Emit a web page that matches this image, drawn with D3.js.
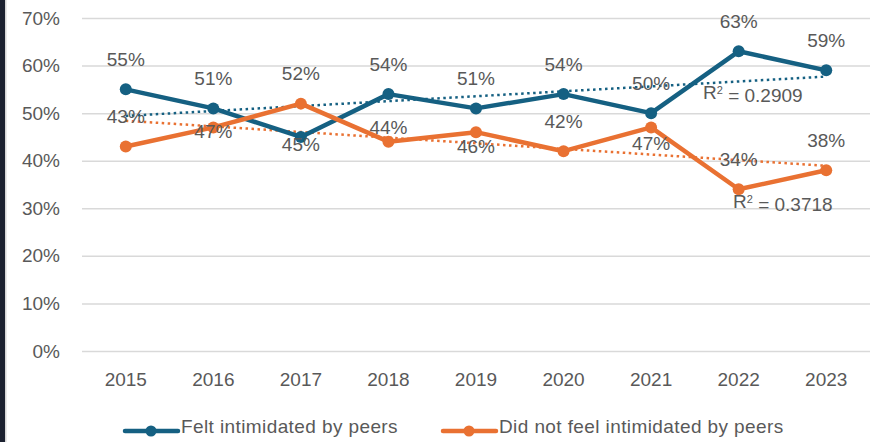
<!DOCTYPE html>
<html>
<head>
<meta charset="utf-8">
<script src="https://cdn.jsdelivr.net/npm/d3@7"></script>
<style>
  body { margin: 0; background: #fff; }
  svg { display: block; font-family: "Liberation Sans", Arial, sans-serif; }
</style>
</head>
<body>
<div id="chart"></div>
<script>
const years = ["2015", "2016", "2017", "2018", "2019", "2020", "2021", "2022", "2023"];
const felt = [55, 51, 45, 54, 51, 54, 50, 63, 59];
const notFelt = [43, 47, 52, 44, 46, 42, 47, 34, 38];
const seriesNames = ["Felt intimidated by peers", "Did not feel intimidated by peers"];
const rSquared = ["0.2909", "0.3718"];
const yTicks = [0, 10, 20, 30, 40, 50, 60, 70];

const width = 870,
  height = 442;

const colors = ["#156082", "#e97132"];
const textColor = "#595959";

// labels that sit below (or nudged) instead of the default "above"
const labelNudge = {
  "0-2017": 7,
  "1-2016": 4, "1-2018": -14, "1-2019": 14, "1-2021": 16
};

const svg = d3.select("#chart")
  .append("svg")
  .attr("width", width)
  .attr("height", height)
  .attr("viewBox", [0, 0, width, height]);

// dark strip on the left edge
svg.append("rect").attr("x", 0).attr("y", 0).attr("width", 5).attr("height", height).attr("fill", "#1b2130");
svg.append("rect").attr("x", 5).attr("y", 0).attr("width", 1.5).attr("height", height).attr("fill", "#d6d6d6");

const x = d3.scaleBand()
  .domain(years)
  .range([82, 870]);

const y = d3.scaleLinear()
  .domain([0, 70])
  .range([351, 18]);

const cx = d => x(d) + x.bandwidth() / 2;

// gridlines + y labels
svg.append("g")
  .attr("transform", "translate(82,0)")
  .call(d3.axisLeft(y).tickValues(yTicks).tickFormat(d => d + "%").tickSize(-(870 - 82)).tickPadding(22))
  .call(g => g.select(".domain").remove())
  .call(g => g.selectAll(".tick line").attr("stroke", "#d9d9d9").attr("stroke-width", 1.5))
  .call(g => g.selectAll(".tick text").attr("fill", textColor).style("font-size", "19px").style("font-family", "Liberation Sans, Arial, sans-serif"));

// x labels
svg.append("g")
  .attr("transform", "translate(0,351)")
  .call(d3.axisBottom(x).tickSize(0).tickPadding(22))
  .call(g => g.select(".domain").remove())
  .call(g => g.selectAll(".tick text").attr("fill", textColor).style("font-size", "19px").style("font-family", "Liberation Sans, Arial, sans-serif"));

const series = [felt, notFelt];

// linear trend (Excel trendline) from the values
function trend(vals) {
  const n = vals.length;
  const xs = vals.map((v, i) => i + 1);
  const mx = d3.mean(xs), my = d3.mean(vals);
  const sxy = d3.sum(xs, (xi, i) => (xi - mx) * (vals[i] - my));
  const sxx = d3.sum(xs, xi => (xi - mx) ** 2);
  const b = sxy / sxx, a = my - b * mx;
  return [a + b * 1, a + b * n];
}

const line = d3.line()
  .x((d, i) => cx(years[i]))
  .y(d => y(d));

series.forEach((vals, s) => {
  const t = trend(vals);
  svg.append("line")
    .attr("x1", cx(years[0]))
    .attr("x2", cx(years[years.length - 1]))
    .attr("y1", y(t[0]))
    .attr("y2", y(t[1]))
    .attr("stroke", colors[s])
    .attr("stroke-width", 2.5)
    .attr("stroke-dasharray", "2.5,3.5");
});

series.forEach((vals, s) => {
  svg.append("path")
    .datum(vals)
    .attr("fill", "none")
    .attr("stroke", colors[s])
    .attr("stroke-width", 4.5)
    .attr("stroke-linejoin", "round")
    .attr("d", line);

  svg.append("g")
    .selectAll("circle")
    .data(vals)
    .join("circle")
    .attr("cx", (d, i) => cx(years[i]))
    .attr("cy", d => y(d))
    .attr("r", 6)
    .attr("fill", colors[s]);
});

// data labels
series.forEach((vals, s) => {
  svg.append("g")
    .selectAll("text")
    .data(vals)
    .join("text")
    .attr("x", (d, i) => cx(years[i]))
    .attr("y", (d, i) => {
      const k = s + "-" + years[i];
      const off = (k in labelNudge) ? labelNudge[k] : -30;
      return y(d) + off;
    })
    .attr("dy", "0.35em")
    .attr("text-anchor", "middle")
    .attr("fill", textColor)
    .style("font-size", "19px")
    .text(d => d + "%");
});

// R² labels
const r2Pos = [[703, 92], [733, 201]];
rSquared.forEach((r, s) => {
  const t = svg.append("text")
    .attr("x", r2Pos[s][0])
    .attr("y", r2Pos[s][1])
    .attr("dy", "0.35em")
    .attr("fill", textColor)
    .style("font-size", "19px");
  t.append("tspan").text("R");
  t.append("tspan").attr("dy", "-0.45em").style("font-size", "11px").text("2");
  t.append("tspan").attr("dy", "0.45em").text(" = " + r);
});

// legend
const legendX = [125, 443];
seriesNames.forEach((name, s) => {
  const g = svg.append("g").attr("transform", `translate(${legendX[s]},431)`);
  g.append("line").attr("x1", 0).attr("x2", 53).attr("stroke", colors[s]).attr("stroke-width", 4.5).attr("stroke-linecap", "round");
  g.append("circle").attr("cx", 26).attr("r", 5.5).attr("fill", colors[s]);
  g.append("text")
    .attr("x", 56)
    .attr("dy", "0.1em")
    .attr("fill", textColor)
    .style("font-size", "19px")
    .style("letter-spacing", "0.4px")
    .text(name);
});
</script>
</body>
</html>
